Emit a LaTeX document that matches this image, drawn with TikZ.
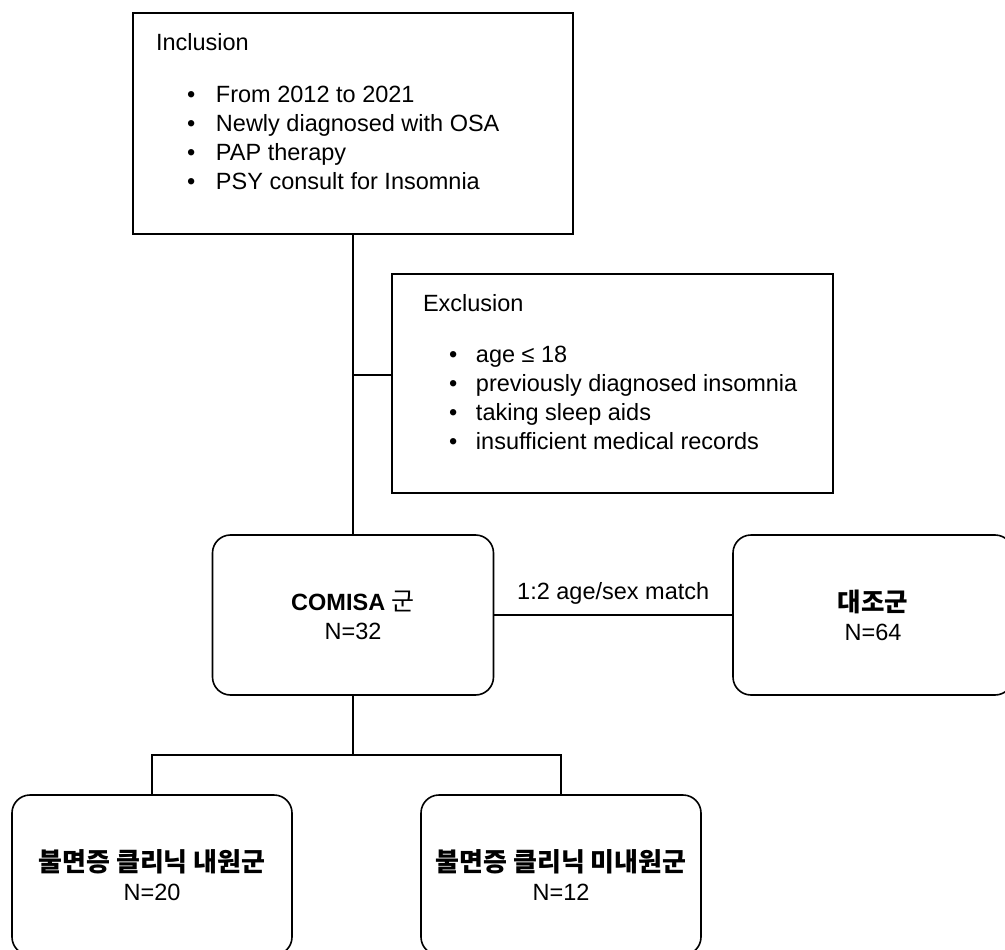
\documentclass[tikz,border=0pt]{standalone}
\usepackage{fontspec}
\setmainfont{Liberation Sans}
\newfontfamily\kr{Noto Sans CJK KR}
\usetikzlibrary{calc,positioning}

\begin{document}
\begin{tikzpicture}[
  x=1pt, y=-1pt,
  line width=1.6pt,
  every node/.style={font=\fontsize{23.5}{29}\selectfont},
  sqbox/.style={rectangle,draw,inner sep=0pt},
  rbox/.style={rectangle,draw,rounded corners=18pt,inner sep=0pt,
    minimum width=280pt,minimum height=160pt,align=center},
  item/.style={anchor=base west,inner sep=0pt},
  ]

  \useasboundingbox (0,0) rectangle (1005,950);

  \node (incl) [sqbox,minimum width=440pt,minimum height=221pt] at (353,123.5) {};
  \node (excl) [sqbox,minimum width=441pt,minimum height=219pt] at (612.5,383.5) {};

  \node (incl_title) [item] at ($(incl.north west)+(23,38)$) {Inclusion};
  \foreach \txt [count=\i from 0] in {From 2012 to 2021,Newly diagnosed with OSA,PAP therapy,PSY consult for Insomnia}
  {
    \node (incl_\i) [item] at ($(incl.north west)+(54,90+29*\i)$) {\makebox[29pt][l]{\textbullet}\txt};
  }

  \node (excl_title) [item] at ($(excl.north west)+(31,38)$) {Exclusion};
  \foreach \txt [count=\i from 0] in {age ≤ 18,previously diagnosed insomnia,taking sleep aids,insufficient medical records}
  {
    \node (excl_\i) [item] at ($(excl.north west)+(57,89+29*\i)$) {\makebox[27pt][l]{\textbullet}\txt};
  }

  \node (comisa) [rbox,minimum width=281pt] at (353,615) {\textbf{COMISA} {\kr\fontsize{25}{29}\selectfont 군}\\N=32};
  \node (ctrl) [rbox] at (873,615) {{\kr\bfseries\fontsize{25.5}{29}\selectfont 대조군}\\N=64};
  \node (clinic) [rbox] at (152,875) {{\kr\bfseries\fontsize{26}{29}\selectfont 불면증 클리닉 내원군}\\N=20};
  \node (noclinic) [rbox] at (561,875) {{\kr\bfseries\fontsize{26}{29}\selectfont 불면증 클리닉 미내원군}\\N=12};

  % inclusion -> comisa, exclusion branch
  \draw (incl.south) -- (comisa.north);
  \coordinate (excl_in) at ($(excl.west)+(0,-8.5)$);
  \draw (incl.south |- excl_in) -- (excl_in);

  % matching
  \draw (comisa.east) -- (ctrl.west);
  \node (match) [anchor=base] at ($(comisa.east)!.5!(ctrl.west)+(0,-16)$) {1:2 age/sex match};

  % split into the two clinic groups
  \coordinate (split) at ($(comisa.south)+(0,59)$);
  \draw (comisa.south) -- (split);
  \draw (clinic.north) |- (split) -| (noclinic.north);

\end{tikzpicture}
\end{document}
